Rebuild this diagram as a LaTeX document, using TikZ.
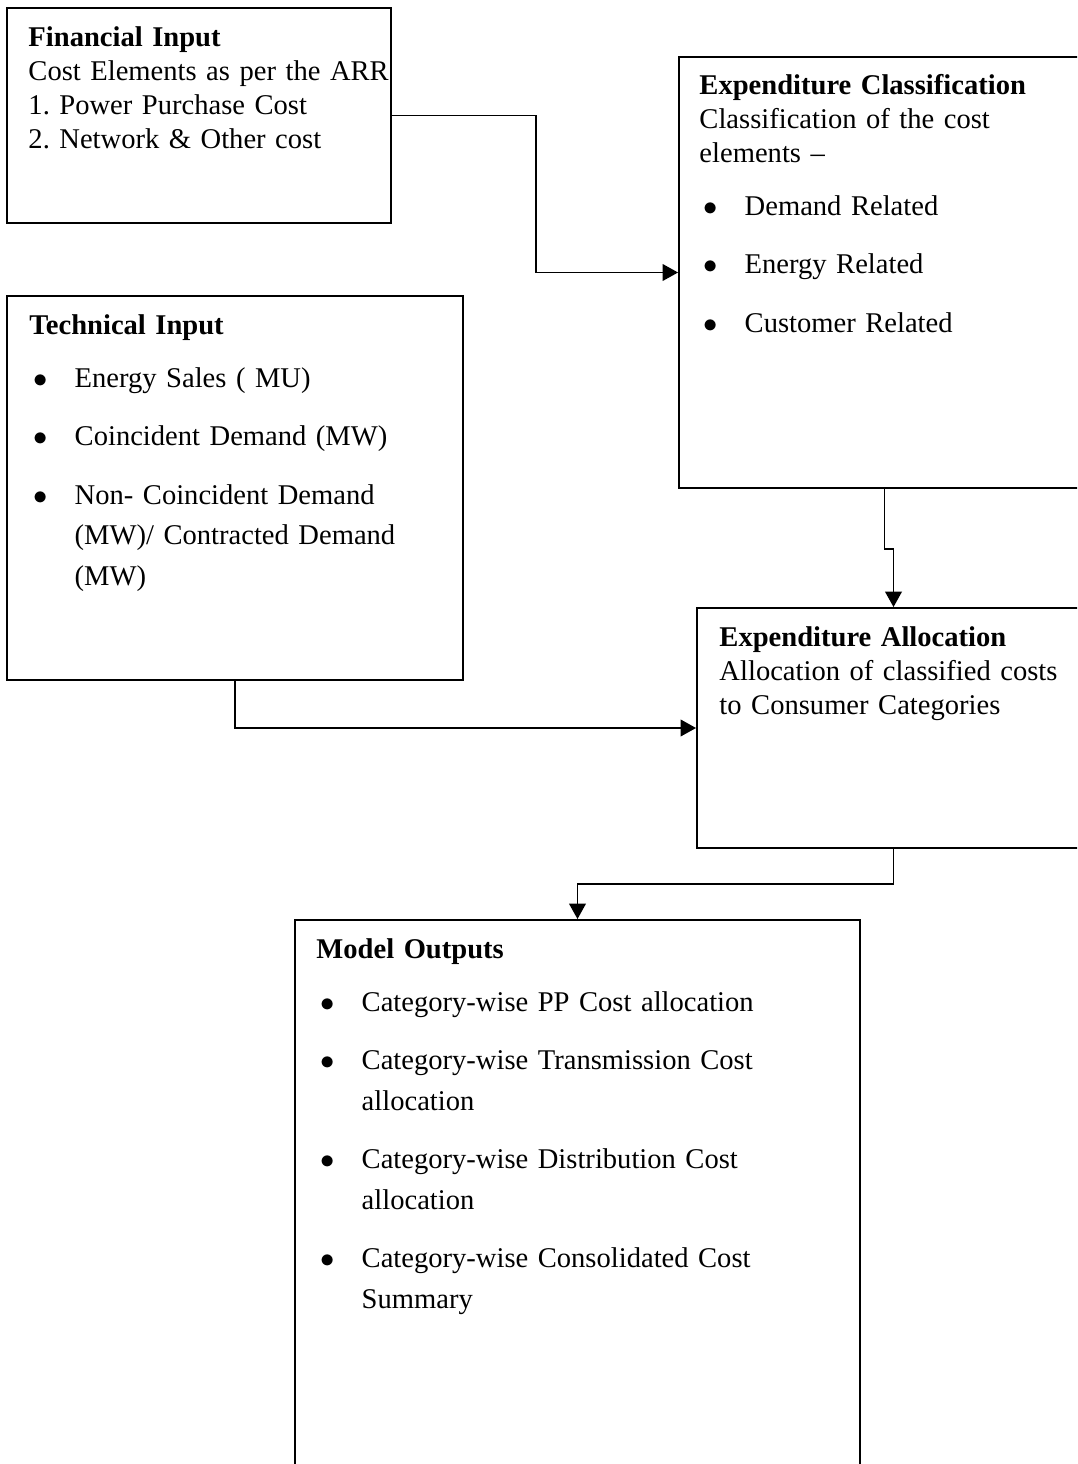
\documentclass[tikz,border=0pt]{standalone}
\usepackage{fontspec}
\setmainfont{Liberation Serif}
\usetikzlibrary{arrows.meta,fit}

\newcommand{\bul}{\hspace*{1.8pt}\makebox[17.2pt][l]{$\bullet$}}
\newcommand{\wrapind}{\hspace*{19pt}}
\newcommand{\titlegap}{8pt}
\newcommand{\itemgap}{10.3pt}
\newcommand{\wrapgap}{2.7pt}

\begin{document}
\frenchspacing
\begin{tikzpicture}[x=0.42pt, y=-0.42pt,
	box/.style={draw, line width=0.8pt, inner sep=0pt},
	txt/.style={anchor=base west, inner sep=0pt, text width=200pt, align=left,
		font=\fontsize{12}{14.3}\selectfont},
	arr/.style={line width=0.8pt, -{Triangle[length=6.5pt, width=7pt]}}]
	\useasboundingbox (0,0) rectangle (1077,1464);
	\clip (0,0) rectangle (1077,1464);

	% boxes
	\node[box, fit={(7,8) (391,223)}] (fin) {};
	\node[box, fit={(679,57) (1090,488)}] (cls) {};
	\node[box, fit={(7,296) (463,680)}] (tec) {};
	\node[box, fit={(697,608) (1090,848)}] (alc) {};
	\node[box, fit={(295,920) (860,1480)}] (out) {};

	% texts
	\node[txt] (fin-txt) at (28,46) {\textbf{Financial Input}\\
		Cost Elements as per the ARR\\
		1. Power Purchase Cost\\
		2. Network \& Other cost};
	\node[txt] (cls-txt) at (699,94) {\textbf{Expenditure Classification}\\
		Classification of the cost\\
		elements –\\[\titlegap]
		\bul Demand Related\\[\itemgap]
		\bul Energy Related\\[\itemgap]
		\bul Customer Related};
	\node[txt] (tec-txt) at (29,334) {\textbf{Technical Input}\\[\titlegap]
		\bul Energy Sales ( MU)\\[\itemgap]
		\bul Coincident Demand (MW)\\[\itemgap]
		\bul Non- Coincident Demand\\[\wrapgap]
		\wrapind (MW)/ Contracted Demand\\[\wrapgap]
		\wrapind (MW)};
	\node[txt] (alc-txt) at (719,646) {\textbf{Expenditure Allocation}\\
		Allocation of classified costs\\
		to Consumer Categories};
	\node[txt, text width=260pt] (out-txt) at (316,958) {\textbf{Model Outputs}\\[\titlegap]
		\bul Category-wise PP Cost allocation\\[\itemgap]
		\bul Category-wise Transmission Cost\\[\wrapgap]
		\wrapind allocation\\[\itemgap]
		\bul Category-wise Distribution Cost\\[\wrapgap]
		\wrapind allocation\\[\itemgap]
		\bul Category-wise Consolidated Cost\\[\wrapgap]
		\wrapind Summary};

	% connectors
	\draw[arr] (fin.east) -- ++(144,0) |- (cls.west);
	\draw[arr] (cls.south) -- ++(0,60) -| (alc.north);
	\draw[arr] (tec.south) |- (alc.west);
	\draw[arr] (alc.south) -- ++(0,35) -| (out.north);
\end{tikzpicture}
\end{document}
